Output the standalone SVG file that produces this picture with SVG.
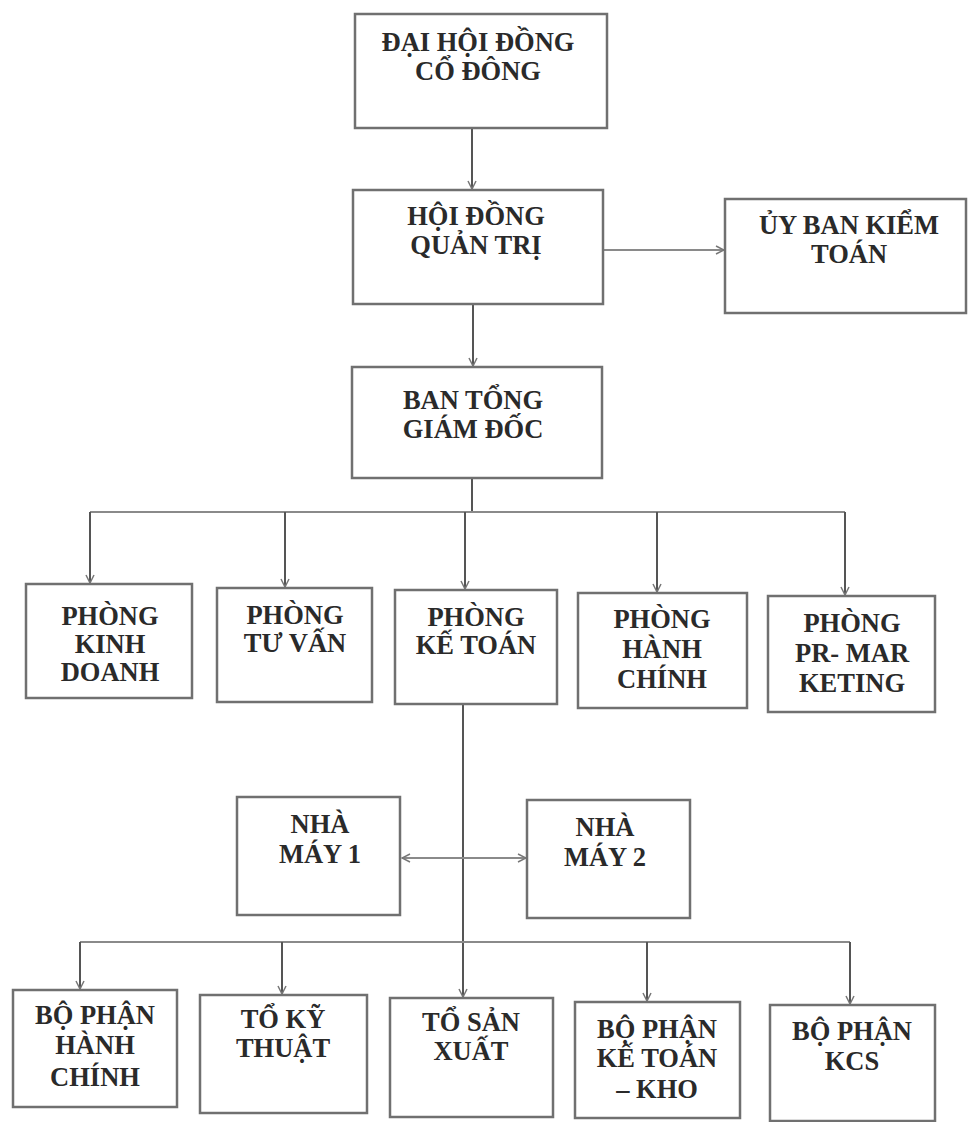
<svg xmlns="http://www.w3.org/2000/svg" width="968" height="1122" viewBox="0 0 968 1122">
<style>
.box{fill:#fff;stroke:#707070;stroke-width:2.5}
.t{font-family:"Liberation Serif","Times New Roman",serif;font-size:26.5px;font-weight:bold;fill:#2a2a2a;text-anchor:middle}
.ln{fill:none;stroke:#555;stroke-width:2}
.lt{fill:none;stroke:#8a8a8a;stroke-width:2}
</style>
<defs>
<marker id="ah" viewBox="0 0 10 10" refX="9" refY="5" markerWidth="10" markerHeight="10" markerUnits="userSpaceOnUse" orient="auto-start-reverse">
<path d="M1,1 L9,5 L1,9" fill="none" stroke="#777" stroke-width="1.5"/>
</marker>
</defs>
<rect width="968" height="1122" fill="#fff"/>
<g id="connectors">
<path class="ln" d="M472,128 V189" marker-end="url(#ah)"/>
<path class="lt" d="M603,250 H724" marker-end="url(#ah)"/>
<path class="ln" d="M473,304 V366" marker-end="url(#ah)"/>
<path class="ln" d="M472,478 V512"/>
<path class="lt" d="M90,512 H845"/>
<path class="ln" d="M90,512 V583" marker-end="url(#ah)"/>
<path class="ln" d="M285,512 V587" marker-end="url(#ah)"/>
<path class="ln" d="M465,512 V589" marker-end="url(#ah)"/>
<path class="ln" d="M657,512 V592" marker-end="url(#ah)"/>
<path class="ln" d="M845,512 V595" marker-end="url(#ah)"/>
<path class="ln" d="M463,704 V997" marker-end="url(#ah)"/>
<path class="lt" d="M402,858 H526" marker-start="url(#ah)" marker-end="url(#ah)"/>
<path class="lt" d="M80,942 H850"/>
<path class="ln" d="M80,942 V989" marker-end="url(#ah)"/>
<path class="ln" d="M282,942 V994" marker-end="url(#ah)"/>
<path class="ln" d="M647,942 V1001" marker-end="url(#ah)"/>
<path class="ln" d="M850,942 V1004" marker-end="url(#ah)"/>
</g>
<g id="n-daihoi"><rect class="box" x="355" y="14" width="252" height="114"/><text class="t" x="478" y="51">ĐẠI HỘI ĐỒNG</text><text class="t" x="478" y="80">CỔ ĐÔNG</text></g>
<g id="n-hdqt"><rect class="box" x="353" y="190" width="250" height="114"/><text class="t" x="476" y="225">HỘI ĐỒNG</text><text class="t" x="476" y="254">QUẢN TRỊ</text></g>
<g id="n-uyban"><rect class="box" x="725" y="199" width="241" height="114"/><text class="t" x="849" y="234">ỦY BAN KIỂM</text><text class="t" x="849" y="263">TOÁN</text></g>
<g id="n-btgd"><rect class="box" x="352" y="367" width="250" height="111"/><text class="t" x="473" y="409">BAN TỔNG</text><text class="t" x="473" y="438">GIÁM ĐỐC</text></g>
<g id="n-kinhdoanh"><rect class="box" x="26" y="584" width="166" height="114"/><text class="t" x="110" y="625">PHÒNG</text><text class="t" x="110" y="653">KINH</text><text class="t" x="110" y="681">DOANH</text></g>
<g id="n-tuvan"><rect class="box" x="217" y="588" width="155" height="114"/><text class="t" x="295" y="624">PHÒNG</text><text class="t" x="295" y="652">TƯ VẤN</text></g>
<g id="n-ketoan"><rect class="box" x="395" y="590" width="162" height="114"/><text class="t" x="476" y="626">PHÒNG</text><text class="t" x="476" y="654">KẾ TOÁN</text></g>
<g id="n-hanhchinh"><rect class="box" x="578" y="593" width="169" height="115"/><text class="t" x="662" y="628">PHÒNG</text><text class="t" x="662" y="658">HÀNH</text><text class="t" x="662" y="688">CHÍNH</text></g>
<g id="n-prmar"><rect class="box" x="768" y="596" width="167" height="116"/><text class="t" x="852" y="632">PHÒNG</text><text class="t" x="852" y="662">PR- MAR</text><text class="t" x="852" y="692">KETING</text></g>
<g id="n-nhamay1"><rect class="box" x="237" y="797" width="163" height="118"/><text class="t" x="320" y="833">NHÀ</text><text class="t" x="320" y="863">MÁY 1</text></g>
<g id="n-nhamay2"><rect class="box" x="527" y="800" width="163" height="118"/><text class="t" x="605" y="836">NHÀ</text><text class="t" x="605" y="866">MÁY 2</text></g>
<g id="n-bphc"><rect class="box" x="13" y="990" width="164" height="117"/><text class="t" x="95" y="1024">BỘ PHẬN</text><text class="t" x="95" y="1054">HÀNH</text><text class="t" x="95" y="1086">CHÍNH</text></g>
<g id="n-tokt"><rect class="box" x="200" y="995" width="167" height="118"/><text class="t" x="283" y="1028">TỔ KỸ</text><text class="t" x="283" y="1057">THUẬT</text></g>
<g id="n-tosx"><rect class="box" x="390" y="998" width="163" height="119"/><text class="t" x="471" y="1031">TỔ SẢN</text><text class="t" x="471" y="1060">XUẤT</text></g>
<g id="n-bpktk"><rect class="box" x="575" y="1002" width="165" height="116"/><text class="t" x="657" y="1038">BỘ PHẬN</text><text class="t" x="657" y="1067">KẾ TOÁN</text><text class="t" x="657" y="1098">– KHO</text></g>
<g id="n-kcs"><rect class="box" x="770" y="1005" width="165" height="116"/><text class="t" x="852" y="1040">BỘ PHẬN</text><text class="t" x="852" y="1070">KCS</text></g>
</svg>
